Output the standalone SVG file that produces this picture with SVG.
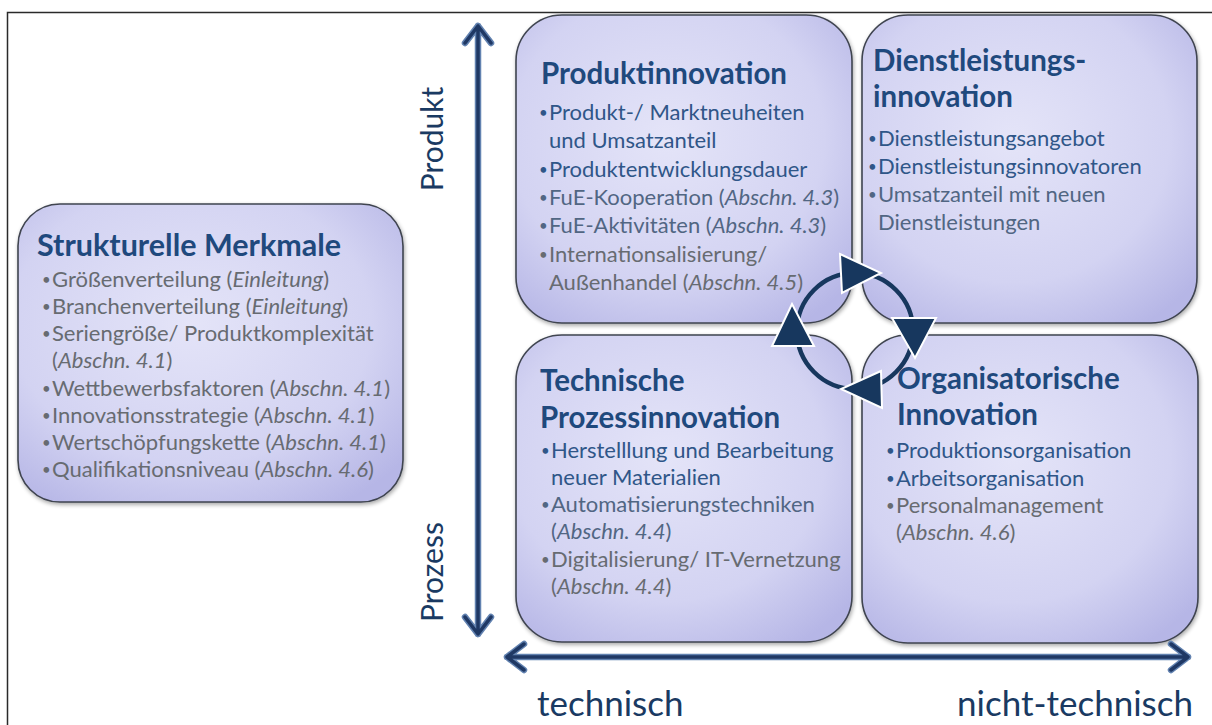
<svg xmlns="http://www.w3.org/2000/svg" width="1212" height="725" viewBox="0 0 1212 725">
<style>
  .box { fill: url(#boxfill); stroke: #3f4450; stroke-width: 1.6; filter: url(#shadow); }
  .title { font-family: Lato, "Liberation Sans", sans-serif; font-weight: bold; font-size: 29.5px; fill: #1f497d; }
  .t { font-family: Lato, "Liberation Sans", sans-serif; font-size: 22px; }
  .bl { font-family: Lato, "Liberation Sans", sans-serif; font-size: 15px; }
  .blue { fill: #2f5688; }
  .mid { fill: #516683; }
  .gray { fill: #676b71; }
  .it { font-style: italic; }
  .axis { font-family: Lato, "Liberation Sans", sans-serif; font-size: 35px; fill: #1a3a62; }
  .axisv { font-family: Lato, "Liberation Sans", sans-serif; font-size: 30px; fill: #1a3a62; }
  .axo { fill: none; stroke: #6282b0; stroke-width: 6.5; stroke-linecap: round; stroke-linejoin: round; }
  .axi { fill: none; stroke: #1f3864; stroke-width: 3.5; stroke-linecap: round; stroke-linejoin: round; }
  .tri { fill: #17375e; stroke: #ffffff; stroke-width: 2; stroke-linejoin: miter; }
</style>
<defs>
  <radialGradient id="boxfill" cx="45%" cy="40%" r="72%">
    <stop offset="0" stop-color="#e4e4f8"/>
    <stop offset="0.65" stop-color="#d3d3f2"/>
    <stop offset="1" stop-color="#b6b6e6"/>
  </radialGradient>
  <filter id="shadow" x="-10%" y="-10%" width="120%" height="120%">
    <feGaussianBlur in="SourceAlpha" stdDeviation="2"/>
    <feOffset dx="1" dy="2" result="b"/>
    <feComponentTransfer><feFuncA type="linear" slope="0.35"/></feComponentTransfer>
    <feMerge><feMergeNode/><feMergeNode in="SourceGraphic"/></feMerge>
  </filter>
</defs>

<rect x="0" y="0" width="1212" height="725" fill="#ffffff"/>
<path d="M7.5 725 V12.5 H1212" fill="none" stroke="#2a2a2a" stroke-width="1.5"/>

<g id="strukturelle-merkmale">
  <rect class="box" x="18" y="204" width="385" height="298" rx="42"/>
  <text class="title" x="37" y="256" style="font-size:30.5px">Strukturelle Merkmale</text>
  <g class="gray">
    <text class="bl" x="42" y="285">•</text><text class="t" x="52" y="287">Größenverteilung (<tspan class="it">Einleitung</tspan>)</text>
    <text class="bl" x="42" y="312">•</text><text class="t" x="52" y="314">Branchenverteilung (<tspan class="it">Einleitung</tspan>)</text>
    <text class="bl" x="42" y="339">•</text><text class="t" x="52" y="341">Seriengröße/ Produktkomplexität</text>
    <text class="t" x="52" y="368">(<tspan class="it">Abschn. 4.1</tspan>)</text>
    <text class="bl" x="42" y="394">•</text><text class="t" x="52" y="396">Wettbewerbsfaktoren (<tspan class="it">Abschn. 4.1</tspan>)</text>
    <text class="bl" x="42" y="421">•</text><text class="t" x="52" y="423">Innovationsstrategie (<tspan class="it">Abschn. 4.1</tspan>)</text>
    <text class="bl" x="42" y="448">•</text><text class="t" x="52" y="450">Wertschöpfungskette (<tspan class="it">Abschn. 4.1</tspan>)</text>
    <text class="bl" x="42" y="475">•</text><text class="t" x="52" y="477">Qualifikationsniveau (<tspan class="it">Abschn. 4.6</tspan>)</text>
  </g>
</g>

<g id="produktinnovation">
  <rect class="box" x="516" y="15" width="336" height="308" rx="46"/>
  <text class="title" x="541" y="84">Produktinnovation</text>
  <g>
    <text class="bl blue" x="539" y="118">•</text><text class="t blue" x="549" y="120">Produkt-/ Marktneuheiten</text>
    <text class="t blue" x="549" y="148">und Umsatzanteil</text>
    <text class="bl blue" x="539" y="175">•</text><text class="t blue" x="549" y="177">Produktentwicklungsdauer</text>
    <text class="bl mid" x="539" y="203">•</text><text class="t mid" x="549" y="205">FuE-Kooperation (<tspan class="it">Abschn. 4.3</tspan>)</text>
    <text class="bl mid" x="539" y="231">•</text><text class="t mid" x="549" y="233">FuE-Aktivitäten (<tspan class="it">Abschn. 4.3</tspan>)</text>
    <text class="bl gray" x="539" y="260">•</text><text class="t gray" x="549" y="262">Internationsalisierung/</text>
    <text class="t gray" x="549" y="290">Außenhandel (<tspan class="it">Abschn. 4.5</tspan>)</text>
  </g>
</g>

<g id="dienstleistungsinnovation">
  <rect class="box" x="862" y="15" width="335" height="308" rx="46"/>
  <text class="title" x="873" y="71">Dienstleistungs-</text>
  <text class="title" x="873" y="107">innovation</text>
  <g>
    <text class="bl blue" x="868" y="144">•</text><text class="t blue" x="878" y="146">Dienstleistungsangebot</text>
    <text class="bl blue" x="868" y="172">•</text><text class="t blue" x="878" y="174">Dienstleistungsinnovatoren</text>
    <text class="bl mid" x="868" y="200">•</text><text class="t mid" x="878" y="202">Umsatzanteil mit neuen</text>
    <text class="t mid" x="878" y="230">Dienstleistungen</text>
  </g>
</g>

<g id="technische-prozessinnovation">
  <rect class="box" x="516" y="335" width="336" height="307" rx="46"/>
  <text class="title" x="540" y="391">Technische</text>
  <text class="title" x="540" y="428">Prozessinnovation</text>
  <g>
    <text class="bl blue" x="541" y="456">•</text><text class="t blue" x="551" y="458">Herstelllung und Bearbeitung</text>
    <text class="t blue" x="551" y="485">neuer Materialien</text>
    <text class="bl mid" x="541" y="510">•</text><text class="t mid" x="551" y="512">Automatisierungstechniken</text>
    <text class="t mid" x="551" y="539">(<tspan class="it">Abschn. 4.4</tspan>)</text>
    <text class="bl gray" x="541" y="565">•</text><text class="t gray" x="551" y="567">Digitalisierung/ IT-Vernetzung</text>
    <text class="t gray" x="551" y="594">(<tspan class="it">Abschn. 4.4</tspan>)</text>
  </g>
</g>

<g id="organisatorische-innovation">
  <rect class="box" x="862" y="335" width="336" height="308" rx="46"/>
  <text class="title" x="897" y="389">Organisatorische</text>
  <text class="title" x="897" y="425">Innovation</text>
  <g>
    <text class="bl blue" x="886" y="456">•</text><text class="t blue" x="896" y="458">Produktionsorganisation</text>
    <text class="bl blue" x="886" y="484">•</text><text class="t blue" x="896" y="486">Arbeitsorganisation</text>
    <text class="bl gray" x="886" y="511">•</text><text class="t gray" x="896" y="513">Personalmanagement</text>
    <text class="t gray" x="896" y="540">(<tspan class="it">Abschn. 4.6</tspan>)</text>
  </g>
</g>

<g id="connectors">
  <g id="axis-vertical">
    <path class="axo" d="M478 26 V634 M465 43 L478 26 L491 43 M465 617 L478 634 L491 617"/>
    <path class="axi" d="M478 26 V634 M465 43 L478 26 L491 43 M465 617 L478 634 L491 617"/>
  </g>
  <g id="axis-horizontal">
    <path class="axo" d="M507 657 H1188 M524 644 L507 657 L524 670 M1171 644 L1188 657 L1171 670"/>
    <path class="axi" d="M507 657 H1188 M524 644 L507 657 L524 670 M1171 644 L1188 657 L1171 670"/>
  </g>
  <g id="cycle">
    <circle cx="855" cy="331" r="58" fill="none" stroke="#17375e" stroke-width="4.5"/>
    <polygon class="tri" points="840,254 881,273 842,293"/>
    <polygon class="tri" points="892,318 936,318 915,358"/>
    <polygon class="tri" points="881,371 841,389 882,408"/>
    <polygon class="tri" points="792,304 814,346 772,346"/>
  </g>
</g>

<g id="axis-labels">
  <text class="axisv" transform="translate(443 139) rotate(-90)" text-anchor="middle">Produkt</text>
  <text class="axisv" transform="translate(443 572) rotate(-90)" text-anchor="middle">Prozess</text>
  <text class="axis" x="537" y="716">technisch</text>
  <text class="axis" x="1193" y="716" text-anchor="end">nicht-technisch</text>
</g>
</svg>
